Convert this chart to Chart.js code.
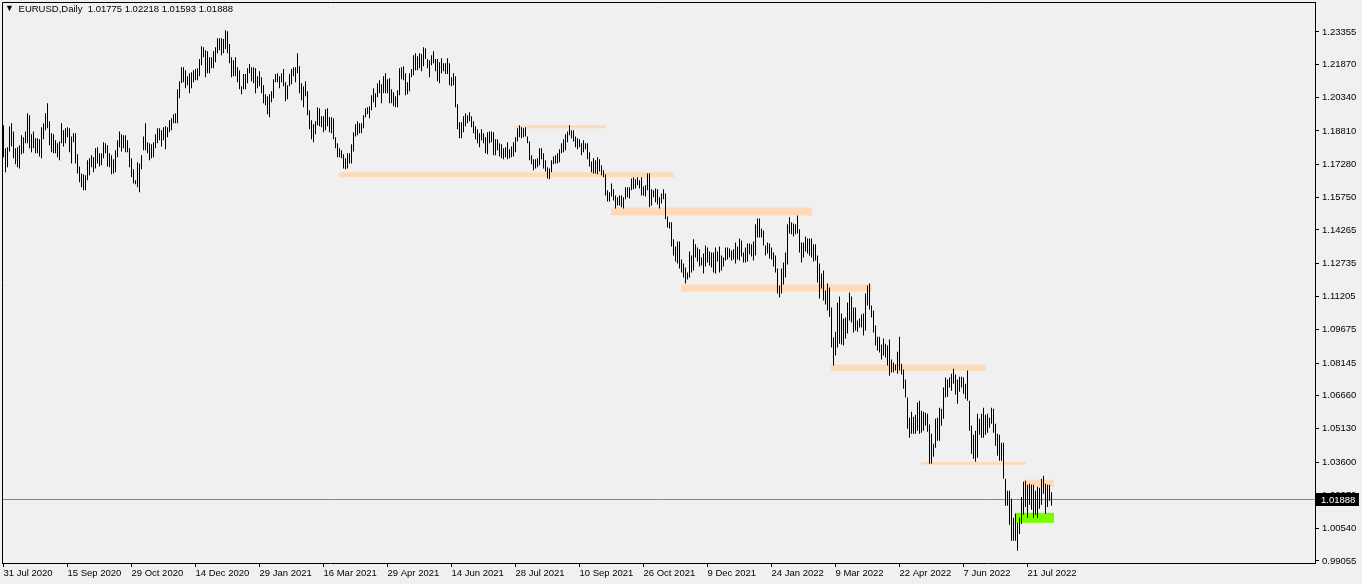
<!DOCTYPE html>
<html>
<head>
<meta charset="utf-8">
<style>
  html, body { margin: 0; padding: 0; background: #f0f0f0; }
  #wrap { position: relative; width: 1362px; height: 584px; }
  #myChart { display: block; }
  #title { position: absolute; left: 5px; top: 3px; font: 9.5px 'Liberation Sans', Arial, sans-serif; color: #000; white-space: pre; }
  #title .tri { font-size: 9px; position: relative; top: -1px; margin-right: 2px; }
</style>
</head>
<body>
<div id="wrap">
  <canvas id="myChart" width="1362" height="584"></canvas>
  <div id="title"></div>
</div>
<script src="https://cdn.jsdelivr.net/npm/chart.js@4.4.0/dist/chart.umd.min.js"></script>
<script>
  const symbol = "EURUSD";
  const period = "Daily";
  const lastQuote = [1.01775, 1.02218, 1.01593, 1.01888]; // O H L C of the last bar

  const labelStep = 32; // bars between two date labels
  const dateLabels = [
    "31 Jul 2020", "15 Sep 2020", "29 Oct 2020", "14 Dec 2020", "29 Jan 2021",
    "16 Mar 2021", "29 Apr 2021", "14 Jun 2021", "28 Jul 2021", "10 Sep 2021",
    "26 Oct 2021", "9 Dec 2021", "24 Jan 2022", "9 Mar 2022", "22 Apr 2022",
    "7 Jun 2022", "21 Jul 2022"
  ];
  const priceTicks = [
    1.23355, 1.21870, 1.20340, 1.18810, 1.17280, 1.15750, 1.14265, 1.12735, 1.11205,
    1.09675, 1.08145, 1.06660, 1.05130, 1.03600, 1.02070, 1.00540, 0.99055
  ];

  // daily highs / lows
  const highs2020 = [
    1.1907, 1.1801, 1.1806, 1.1902, 1.1916, 1.1879, 1.1801, 1.1806, 1.1815, 1.1861,
    1.1852, 1.1879, 1.1962, 1.1953, 1.1866, 1.1879, 1.1847, 1.1847, 1.1843, 1.1898,
    1.1916, 1.1962, 1.2008, 1.1925, 1.1870, 1.1866, 1.1838, 1.1824, 1.1833, 1.1916,
    1.1884, 1.1893, 1.1898, 1.1893, 1.1856, 1.1870, 1.1870, 1.1774, 1.1718, 1.1686,
    1.1682, 1.1677, 1.1746, 1.1755, 1.1769, 1.1760, 1.1801, 1.1806, 1.1778, 1.1778,
    1.1829, 1.1824, 1.1815, 1.1778, 1.1769, 1.1751, 1.1792, 1.1838, 1.1879, 1.1866,
    1.1861, 1.1861, 1.1838, 1.1801, 1.1755, 1.1705, 1.1654, 1.1737, 1.1732, 1.1769,
    1.1856, 1.1916, 1.1829, 1.1824, 1.1820, 1.1829, 1.1866, 1.1893, 1.1893, 1.1884,
    1.1898, 1.1902, 1.1898, 1.1930, 1.1939, 1.1958, 1.1962, 1.2073, 1.2109, 1.2174,
    1.2174, 1.2160, 1.2132, 1.2146, 1.2151, 1.2160, 1.2165, 1.2169, 1.2211, 1.2270,
    1.2266, 1.2252, 1.2247, 1.2220, 1.2220, 1.2247, 1.2266, 1.2307, 1.2307
  ];
  const lows2020 = [
    1.1760, 1.1691, 1.1714, 1.1787, 1.1810, 1.1755, 1.1728, 1.1714, 1.1709, 1.1774,
    1.1778, 1.1824, 1.1824, 1.1801, 1.1783, 1.1801, 1.1778, 1.1778, 1.1764, 1.1755,
    1.1843, 1.1884, 1.1893, 1.1815, 1.1783, 1.1778, 1.1778, 1.1760, 1.1746, 1.1824,
    1.1810, 1.1824, 1.1852, 1.1783, 1.1732, 1.1829, 1.1732, 1.1686, 1.1645, 1.1622,
    1.1608, 1.1608, 1.1654, 1.1677, 1.1714, 1.1691, 1.1709, 1.1732, 1.1718, 1.1723,
    1.1755, 1.1778, 1.1718, 1.1714, 1.1682, 1.1686, 1.1691, 1.1760, 1.1806, 1.1787,
    1.1801, 1.1783, 1.1783, 1.1714, 1.1668, 1.1640, 1.1636, 1.1622, 1.1599, 1.1705,
    1.1792, 1.1792, 1.1778, 1.1746, 1.1755, 1.1760, 1.1801, 1.1824, 1.1838, 1.1810,
    1.1838, 1.1797, 1.1852, 1.1875, 1.1884, 1.1916, 1.1916, 1.1916, 1.2031, 1.2100,
    1.2105, 1.2077, 1.2091, 1.2054, 1.2077, 1.2105, 1.2114, 1.2114, 1.2132, 1.2183,
    1.2220, 1.2128, 1.2146, 1.2146, 1.2169, 1.2169, 1.2197, 1.2238, 1.2252
  ];
  const highs2021 = [
    1.2307, 1.2303, 1.2344, 1.2339, 1.2280, 1.2220, 1.2206, 1.2220, 1.2174, 1.2160,
    1.2086, 1.2142, 1.2142, 1.2169, 1.2188, 1.2174, 1.2174, 1.2169, 1.2132, 1.2155,
    1.2128, 1.2091, 1.2050, 1.2040, 1.2050, 1.2063, 1.2119, 1.2142, 1.2146, 1.2132,
    1.2146, 1.2165, 1.2105, 1.2091, 1.2142, 1.2165, 1.2174, 1.2174, 1.2238, 1.2178,
    1.2100, 1.2086, 1.2109, 1.2063, 1.1976, 1.1930, 1.1912, 1.1925, 1.1990, 1.1985,
    1.1948, 1.1948, 1.1981, 1.1985, 1.1944, 1.1944, 1.1939, 1.1852, 1.1824, 1.1801,
    1.1792, 1.1774, 1.1755, 1.1778, 1.1778, 1.1820, 1.1875, 1.1912, 1.1925, 1.1916,
    1.1916, 1.1953, 1.1985, 1.1990, 1.1994, 1.2045, 1.2077, 1.2054, 1.2100, 1.2114,
    1.2096, 1.2132, 1.2146, 1.2119, 1.2123, 1.2073, 1.2059, 1.2040, 1.2068, 1.2169,
    1.2174, 1.2178, 1.2146, 1.2105, 1.2146, 1.2165, 1.2229, 1.2238, 1.2224, 1.2238,
    1.2234, 1.2266, 1.2261, 1.2211, 1.2206, 1.2229, 1.2247, 1.2211, 1.2211, 1.2197,
    1.2215, 1.2192, 1.2192, 1.2215, 1.2192, 1.2128, 1.2146, 1.2132, 1.2004, 1.1921,
    1.1921, 1.1948, 1.1962, 1.1953, 1.1967, 1.1948, 1.1925, 1.1902, 1.1889, 1.1870,
    1.1889, 1.1870, 1.1852, 1.1875, 1.1879, 1.1879, 1.1875, 1.1843, 1.1843, 1.1824,
    1.1820, 1.1801, 1.1806, 1.1829, 1.1797, 1.1810, 1.1829, 1.1852, 1.1893, 1.1907,
    1.1898, 1.1893, 1.1898, 1.1856, 1.1833, 1.1769, 1.1751, 1.1751, 1.1755, 1.1801,
    1.1801, 1.1778, 1.1746, 1.1714, 1.1709, 1.1746, 1.1764, 1.1769, 1.1778, 1.1797,
    1.1824, 1.1843, 1.1866, 1.1879, 1.1907, 1.1884, 1.1884, 1.1856, 1.1847, 1.1843,
    1.1824, 1.1838, 1.1824, 1.1824, 1.1783, 1.1741, 1.1755, 1.1746, 1.1760, 1.1751,
    1.1723, 1.1700, 1.1682, 1.1608, 1.1599, 1.1640, 1.1613, 1.1585, 1.1576, 1.1585,
    1.1585, 1.1576, 1.1622, 1.1622, 1.1622, 1.1663, 1.1668, 1.1659, 1.1668, 1.1654,
    1.1668, 1.1626, 1.1631, 1.1686, 1.1686, 1.1613, 1.1608, 1.1617, 1.1613, 1.1576,
    1.1594, 1.1613, 1.1594, 1.1488, 1.1461, 1.1461, 1.1383, 1.1350, 1.1373, 1.1373,
    1.1291, 1.1272, 1.1254, 1.1231, 1.1327, 1.1309, 1.1383, 1.1360, 1.1346, 1.1337,
    1.1300, 1.1318, 1.1355, 1.1346, 1.1327, 1.1323, 1.1323, 1.1346, 1.1327, 1.1350,
    1.1309, 1.1300, 1.1346, 1.1346, 1.1341, 1.1332, 1.1337, 1.1369, 1.1350, 1.1387
  ];
  const lows2021 = [
    1.2229, 1.2238, 1.2257, 1.2238, 1.2192, 1.2128, 1.2132, 1.2132, 1.2105, 1.2073,
    1.2050, 1.2073, 1.2073, 1.2100, 1.2146, 1.2109, 1.2100, 1.2054, 1.2077, 1.2086,
    1.2054, 1.2008, 1.1999, 1.1958, 1.1944, 1.2013, 1.2031, 1.2105, 1.2105, 1.2077,
    1.2105, 1.2086, 1.2017, 1.2027, 1.2086, 1.2096, 1.2132, 1.2105, 1.2146, 1.2054,
    1.2022, 1.1990, 1.2040, 1.1953, 1.1889, 1.1843, 1.1829, 1.1866, 1.1907, 1.1902,
    1.1898, 1.1875, 1.1884, 1.1902, 1.1875, 1.1870, 1.1843, 1.1801, 1.1760, 1.1760,
    1.1755, 1.1709, 1.1705, 1.1709, 1.1732, 1.1732, 1.1787, 1.1856, 1.1861, 1.1870,
    1.1870, 1.1893, 1.1944, 1.1958, 1.1939, 1.1976, 1.2013, 1.1990, 1.2036, 1.2054,
    1.2008, 1.2054, 1.2054, 1.2054, 1.2008, 1.2008, 1.1994, 1.1990, 1.1990, 1.2045,
    1.2119, 1.2114, 1.2045, 1.2050, 1.2063, 1.2128, 1.2137, 1.2160, 1.2160, 1.2169,
    1.2155, 1.2178, 1.2211, 1.2169, 1.2128, 1.2183, 1.2192, 1.2155, 1.2109, 1.2100,
    1.2146, 1.2155, 1.2142, 1.2142, 1.2091, 1.2086, 1.2091, 1.1990, 1.1889, 1.1847,
    1.1847, 1.1875, 1.1902, 1.1916, 1.1925, 1.1898, 1.1870, 1.1843, 1.1824, 1.1806,
    1.1838, 1.1824, 1.1778, 1.1774, 1.1824, 1.1829, 1.1769, 1.1769, 1.1792, 1.1764,
    1.1755, 1.1751, 1.1760, 1.1751, 1.1755, 1.1760, 1.1764, 1.1783, 1.1833, 1.1852,
    1.1847, 1.1852, 1.1856, 1.1824, 1.1746, 1.1728, 1.1700, 1.1709, 1.1714, 1.1723,
    1.1751, 1.1709, 1.1695, 1.1663, 1.1659, 1.1691, 1.1728, 1.1732, 1.1732, 1.1737,
    1.1778, 1.1783, 1.1792, 1.1829, 1.1861, 1.1847, 1.1833, 1.1806, 1.1797, 1.1806,
    1.1769, 1.1783, 1.1797, 1.1751, 1.1718, 1.1691, 1.1686, 1.1686, 1.1682, 1.1695,
    1.1677, 1.1668, 1.1585, 1.1557, 1.1557, 1.1580, 1.1562, 1.1525, 1.1539, 1.1539,
    1.1530, 1.1525, 1.1567, 1.1576, 1.1571, 1.1608, 1.1613, 1.1617, 1.1631, 1.1617,
    1.1585, 1.1585, 1.1580, 1.1608, 1.1530, 1.1539, 1.1576, 1.1553, 1.1543, 1.1525,
    1.1548, 1.1567, 1.1475, 1.1438, 1.1433, 1.1350, 1.1309, 1.1281, 1.1272, 1.1249,
    1.1231, 1.1208, 1.1180, 1.1199, 1.1208, 1.1231, 1.1240, 1.1300, 1.1281, 1.1258,
    1.1263, 1.1226, 1.1258, 1.1277, 1.1263, 1.1254, 1.1231, 1.1226, 1.1281, 1.1231,
    1.1240, 1.1258, 1.1286, 1.1291, 1.1300, 1.1286, 1.1291, 1.1272, 1.1291, 1.1286
  ];
  const highs2022 = [
    1.1378, 1.1323, 1.1346, 1.1364, 1.1364, 1.1360, 1.1373, 1.1452, 1.1479, 1.1479,
    1.1433, 1.1424, 1.1355, 1.1369, 1.1364, 1.1346, 1.1323, 1.1309, 1.1249, 1.1171,
    1.1249, 1.1277, 1.1323, 1.1452, 1.1484, 1.1461, 1.1456, 1.1452, 1.1493, 1.1429,
    1.1369, 1.1369, 1.1396, 1.1387, 1.1387, 1.1387, 1.1360, 1.1360, 1.1309, 1.1272,
    1.1226, 1.1240, 1.1148, 1.1180, 1.1162, 1.1070, 1.0932, 1.0959, 1.1093, 1.1120,
    1.1042, 1.1019, 1.1024, 1.1093, 1.1139, 1.1120, 1.1070, 1.1070, 1.1010, 1.1019,
    1.1038, 1.1042, 1.1134, 1.1171, 1.1180, 1.1079, 1.1056, 1.0987, 1.0936, 1.0936,
    1.0900, 1.0927, 1.0904, 1.0895, 1.0923, 1.0831, 1.0817, 1.0808, 1.0867, 1.0936,
    1.0812, 1.0785, 1.0739, 1.0656, 1.0564, 1.0591, 1.0568, 1.0577, 1.0633, 1.0642,
    1.0596, 1.0591, 1.0587, 1.0582, 1.0532, 1.0490, 1.0444, 1.0559, 1.0564, 1.0610,
    1.0605, 1.0702, 1.0748, 1.0739, 1.0748, 1.0766, 1.0789, 1.0762, 1.0739, 1.0752,
    1.0752, 1.0748, 1.0720, 1.0780, 1.0642, 1.0527, 1.0486, 1.0504, 1.0582, 1.0559,
    1.0582, 1.0610, 1.0577, 1.0582, 1.0564, 1.0610, 1.0605, 1.0536, 1.0490, 1.0486,
    1.0449, 1.0449, 1.0283, 1.0228, 1.0228, 1.0191, 1.0104, 1.0122, 1.0081, 1.0104,
    1.0200, 1.0269, 1.0274, 1.0256, 1.0260, 1.0256, 1.0256, 1.0228, 1.0246, 1.0242,
    1.0283, 1.0297, 1.0260, 1.0256, 1.0256, 1.02218
  ];
  const lows2022 = [
    1.1304, 1.1277, 1.1277, 1.1281, 1.1314, 1.1304, 1.1286, 1.1309, 1.1392, 1.1392,
    1.1392, 1.1355, 1.1309, 1.1318, 1.1295, 1.1291, 1.1258, 1.1231, 1.1134, 1.1116,
    1.1134, 1.1176, 1.1208, 1.1268, 1.1410, 1.1406, 1.1396, 1.1406, 1.1410, 1.1323,
    1.1277, 1.1300, 1.1327, 1.1318, 1.1309, 1.1300, 1.1281, 1.1286, 1.1185, 1.1111,
    1.1157, 1.1102, 1.1084, 1.1056, 1.1028, 1.0886, 1.0803, 1.0849, 1.0886, 1.0904,
    1.0900, 1.0895, 1.0927, 1.0950, 1.1010, 1.1001, 1.0955, 1.0964, 1.0959, 1.0978,
    1.0978, 1.0941, 1.0964, 1.1079, 1.1061, 1.1024, 1.0955, 1.0895, 1.0872, 1.0863,
    1.0831, 1.0849, 1.0840, 1.0803, 1.0757, 1.0771, 1.0771, 1.0780, 1.0766, 1.0780,
    1.0762, 1.0697, 1.0656, 1.0513, 1.0472, 1.0490, 1.0490, 1.0490, 1.0504, 1.0490,
    1.0495, 1.0504, 1.0527, 1.0499, 1.0352, 1.0352, 1.0384, 1.0426, 1.0458, 1.0458,
    1.0527, 1.0559, 1.0656, 1.0660, 1.0702, 1.0688, 1.0720, 1.0670, 1.0628, 1.0683,
    1.0702, 1.0674, 1.0651, 1.0642, 1.0504, 1.0398, 1.0375, 1.0361, 1.0380, 1.0486,
    1.0472, 1.0472, 1.0486, 1.0495, 1.0518, 1.0536, 1.0495, 1.0435, 1.0389, 1.0366,
    1.0366, 1.0283, 1.0159, 1.0159, 1.0072, 0.9998, 0.9998, 0.9998, 0.9952, 1.0030,
    1.0076, 1.0118, 1.0154, 1.0104, 1.0164, 1.0141, 1.0104, 1.0118, 1.0104, 1.0145,
    1.0164, 1.0214, 1.0122, 1.0154, 1.0182, 1.01593
  ];

  // drawn rectangles: [first bar, last bar, top price, bottom price, kind]
  const zones = [
    [168, 335, 1.1691, 1.1668, 0],
    [256, 301, 1.1907, 1.1893, 0],
    [304, 404, 1.1530, 1.1493, 0],
    [339, 434, 1.1176, 1.1143, 0],
    [414, 491, 1.0808, 1.0780, 0],
    [459, 511, 1.0361, 1.0348, 0],
    [510, 525, 1.0279, 1.0246, 0],
    [506, 525, 1.0127, 1.0081, 1]
  ];
  const zoneColors = ["#ffdab9", "#7cfc00"];

  const highs = highs2020.concat(highs2021, highs2022);
  const lows = lows2020.concat(lows2021, lows2022);
  const bars = highs.map((h, i) => ({ x: i, y: [lows[i], h] }));

  const font = { family: "'Liberation Sans', Arial, sans-serif", size: 9.5 };

  document.getElementById("title").innerHTML =
    '<span class="tri">\u25BC</span> ' + symbol + "," + period + "  " +
    lastQuote.map(v => v.toFixed(5)).join(" ");

  // rectangles and the bid line, under the bars
  const backdrop = {
    id: "backdrop",
    beforeDatasetsDraw(chart) {
      const { ctx, chartArea: a, scales: { x, y } } = chart;
      ctx.save();
      ctx.beginPath();
      ctx.rect(a.left, a.top, a.width, a.height);
      ctx.clip();
      zones.forEach(z => {
        const x0 = x.getPixelForValue(z[0]) - 0.5;
        const x1 = x.getPixelForValue(z[1]) + 0.5;
        const y0 = y.getPixelForValue(z[2]);
        const y1 = y.getPixelForValue(z[3]);
        ctx.fillStyle = zoneColors[z[4]];
        ctx.fillRect(x0, y0, x1 - x0, y1 - y0);
      });
      const py = Math.round(y.getPixelForValue(lastQuote[3])) + 0.5;
      ctx.strokeStyle = "#778899";
      ctx.lineWidth = 1;
      ctx.beginPath();
      ctx.moveTo(a.left, py);
      ctx.lineTo(a.right, py);
      ctx.stroke();
      ctx.restore();
    },
    afterDraw(chart) {
      const { ctx, chartArea: a, scales: { y } } = chart;
      ctx.save();
      // frame: left and top edges (right/bottom come from the axes)
      ctx.strokeStyle = "#000";
      ctx.lineWidth = 1;
      ctx.beginPath();
      ctx.moveTo(a.left + 0.5, a.bottom);
      ctx.lineTo(a.left + 0.5, a.top + 0.5);
      ctx.lineTo(a.right, a.top + 0.5);
      ctx.stroke();
      // last price box on the axis
      const py = Math.round(y.getPixelForValue(lastQuote[3]));
      ctx.fillStyle = "#000";
      ctx.fillRect(a.right + 1, py - 6, 43, 13);
      ctx.fillStyle = "#fff";
      ctx.font = font.size + "px " + font.family;
      ctx.textBaseline = "middle";
      ctx.textAlign = "left";
      ctx.fillText(lastQuote[3].toFixed(5), a.right + 6, py + 1);
      ctx.restore();
    }
  };

  const ctx = document.getElementById("myChart").getContext("2d");
  const myChart = new Chart(ctx, {
    type: "bar",
    data: {
      datasets: [{
        data: bars,
        backgroundColor: "#000",
        borderWidth: 0,
        barThickness: 1,
        inflateAmount: 0
      }]
    },
    options: {
      responsive: false,
      animation: false,
      events: [],
      layout: { padding: { left: 2, top: 2, right: 0, bottom: 0 } },
      plugins: { legend: { display: false }, tooltip: { enabled: false } },
      scales: {
        x: {
          type: "linear",
          min: -0.75,
          max: 655.75,
          offset: false,
          grid: { offset: false, drawOnChartArea: false, color: "#000", tickLength: 4 },
          border: { color: "#000" },
          afterBuildTicks: s => { s.ticks = dateLabels.map((_, k) => ({ value: k * labelStep })); },
          afterFit: s => { s.height = 21; s.paddingLeft = 0; s.paddingRight = 0; },
          ticks: {
            autoSkip: false,
            maxRotation: 0,
            align: "start",
            padding: 1,
            color: "#000",
            font: font,
            callback: v => dateLabels[Math.round(v / labelStep)]
          }
        },
        y: {
          position: "right",
          min: 0.98963,
          max: 1.24733,
          beginAtZero: false,
          grid: { drawOnChartArea: false, color: "#000", tickLength: 4 },
          border: { color: "#000" },
          afterBuildTicks: s => { s.ticks = priceTicks.map(v => ({ value: v })); },
          afterFit: s => { s.width = 47; s.paddingTop = 0; s.paddingBottom = 0; },
          ticks: {
            padding: 3,
            color: "#000",
            font: font,
            callback: v => v.toFixed(5)
          }
        }
      }
    },
    plugins: [backdrop]
  });
</script>
</body>
</html>
